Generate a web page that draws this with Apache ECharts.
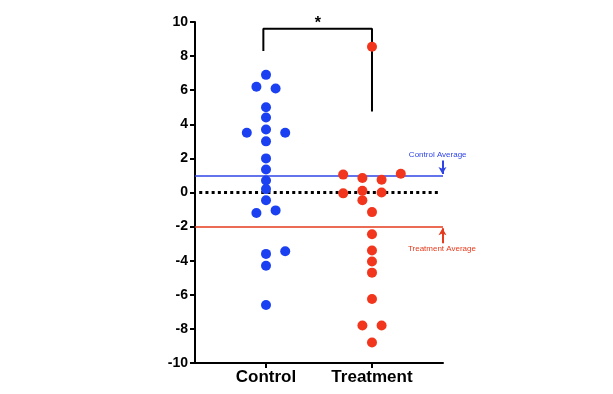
<!DOCTYPE html>
<html><head><meta charset="utf-8">
<script src="https://cdn.jsdelivr.net/npm/echarts@6/dist/echarts.min.js"></script>
<style>html,body{margin:0;padding:0;background:#fff}#c{width:613px;height:394px}</style>
</head><body><div id="c"></div>
<script>
// ---- data ----
const categories = ['Control', 'Treatment'];
const yTickValues = [-10, -8, -6, -4, -2, 0, 2, 4, 6, 8, 10];
const controlValues   = [6.9, 6.2, 6.1, 5.0, 4.4, 3.7, 3.5, 3.5, 3.0, 2.0, 1.35, 0.7, 0.2, -0.45, -1.2, -1.05, -3.6, -3.45, -4.3, -6.6];
const controlSpread   = [0, -1, 1, 0, 0, 0, -2, 2, 0, 0, 0, 0, 0, 0, -1, 1, 0, 2, 0, 0];
const treatmentValues = [8.55, 1.05, 1.1, 0.85, 0.75, -0.05, 0.1, 0.0, -0.45, -1.15, -2.45, -3.4, -4.05, -4.7, -6.25, -7.8, -7.8, -8.8];
const treatmentSpread = [0, -3, 3, -1, 1, -3, -1, 1, -1, 0, 0, 0, 0, 0, 0, -1, 1, 0];
const controlAverage = 1.0;
const treatmentAverage = -2.0;
const bracketControlEnd = 8.3;
const bracketTop = 9.6;
const bracketTreatmentEnd = 4.75;
const significanceText = '*';
const controlAvgText = 'Control Average';
const treatmentAvgText = 'Treatment Average';

// ---- presentation ----
const SPREAD_UNIT = 0.0906;
const BLUE = '#1a40f2', RED = '#f2361d';
const BLUE_LINE = '#2e44e6', RED_LINE = '#e63a1c';
const X_MIN = 0.33, X_MAX = 2.67;

function pts(vals, spread, catIdx) {
  return vals.map((v, i) => [catIdx + 1 + spread[i] * SPREAD_UNIT, v]);
}

const chart = echarts.init(document.getElementById('c'), null, {renderer: 'canvas'});
const option = {
  animation: false,
  backgroundColor: '#fff',
  grid: {left: 195, right: 170, top: 22, bottom: 31, containLabel: false},
  xAxis: {
    type: 'value', min: X_MIN, max: X_MAX,
    splitLine: {show: false},
    axisLine: {show: true, onZero: false, lineStyle: {color: '#000', width: 2}},
    axisTick: {show: true, customValues: [1, 2], length: 5, lineStyle: {color: '#000', width: 2}},
    axisLabel: {
      show: true, customValues: [1, 2], margin: 6,
      formatter: v => categories[Math.round(v) - 1] || '',
      color: '#000', fontFamily: 'Liberation Sans, Arial, sans-serif', fontWeight: 'bold', fontSize: 17
    }
  },
  yAxis: {
    type: 'value', min: -10, max: 10, interval: 2,
    splitLine: {show: false},
    axisLine: {show: true, onZero: false, lineStyle: {color: '#000', width: 2}},
    axisTick: {show: true, length: 5, lineStyle: {color: '#000', width: 2}},
    axisLabel: {
      margin: 7, color: '#000', fontFamily: 'Liberation Sans, Arial, sans-serif', fontWeight: 'bold', fontSize: 14,
      formatter: v => yTickValues.includes(v) ? String(v) : ''
    }
  },
  series: [
    {
      type: 'line', name: 'refs', data: [], silent: true, z: 1,
      markLine: {
        silent: true, animation: false, symbol: ['none', 'none'],
        label: {show: false},
        data: [
          [{coord: [0.37, 0], lineStyle: {color: '#000', width: 3, type: [3, 3.2], cap: 'butt'}}, {coord: [2.63, 0]}],
          [{coord: [X_MIN, controlAverage], lineStyle: {color: BLUE_LINE, width: 1.5, type: 'solid'}}, {coord: [X_MAX, controlAverage]}],
          [{coord: [X_MIN, treatmentAverage], lineStyle: {color: RED_LINE, width: 1.5, type: 'solid'}}, {coord: [X_MAX, treatmentAverage]}]
        ]
      }
    },
    {
      type: 'line', name: 'arrows', data: [], silent: true, z: 1,
      markLine: {
        silent: true, animation: false, symbol: ['none', 'arrow'], symbolSize: [6, 7],
        label: {show: false},
        data: [
          [{coord: [2.665, controlAverage + 0.87], lineStyle: {color: BLUE_LINE, width: 2, type: 'solid'}, itemStyle: {color: BLUE_LINE}}, {coord: [2.665, controlAverage + 0.08]}],
          [{coord: [2.665, treatmentAverage - 0.97], lineStyle: {color: RED_LINE, width: 2, type: 'solid'}, itemStyle: {color: RED_LINE}}, {coord: [2.665, treatmentAverage - 0.1]}]
        ]
      },
      markPoint: {
        silent: true, animation: false, symbol: 'circle', symbolSize: 1,
        itemStyle: {color: 'rgba(0,0,0,0)'},
        data: [
          {coord: [2.62, controlAverage + 1.2], label: {show: true, position: 'inside', formatter: controlAvgText, color: BLUE_LINE, fontSize: 8, fontFamily: 'Liberation Sans, Arial, sans-serif'}},
          {coord: [2.66, treatmentAverage - 1.32], label: {show: true, position: 'inside', formatter: treatmentAvgText, color: RED_LINE, fontSize: 8, fontFamily: 'Liberation Sans, Arial, sans-serif'}}
        ]
      }
    },
    {
      type: 'line', name: 'bracket', silent: true, z: 2,
      data: [[1 - 0.025, bracketControlEnd], [1 - 0.025, bracketTop], [2, bracketTop], [2, bracketTreatmentEnd]],
      symbol: 'none', lineStyle: {color: '#000', width: 2}, itemStyle: {color: '#000'},
      markPoint: {
        silent: true, animation: false, symbol: 'circle', symbolSize: 1,
        itemStyle: {color: 'rgba(0,0,0,0)'},
        data: [{coord: [1.49, bracketTop], label: {show: true, position: 'inside', offset: [0, -5], formatter: significanceText, color: '#000', fontSize: 16, fontWeight: 'bold', fontFamily: 'Liberation Sans, Arial, sans-serif'}}]
      }
    },
    {
      type: 'scatter', name: categories[0], data: pts(controlValues, controlSpread, 0),
      symbol: 'circle', symbolSize: 10, itemStyle: {color: BLUE, opacity: 1}, z: 5
    },
    {
      type: 'scatter', name: categories[1], data: pts(treatmentValues, treatmentSpread, 1),
      symbol: 'circle', symbolSize: 10, itemStyle: {color: RED, opacity: 1}, z: 5
    }
  ]
};
chart.setOption(option);
</script>
</body></html>
